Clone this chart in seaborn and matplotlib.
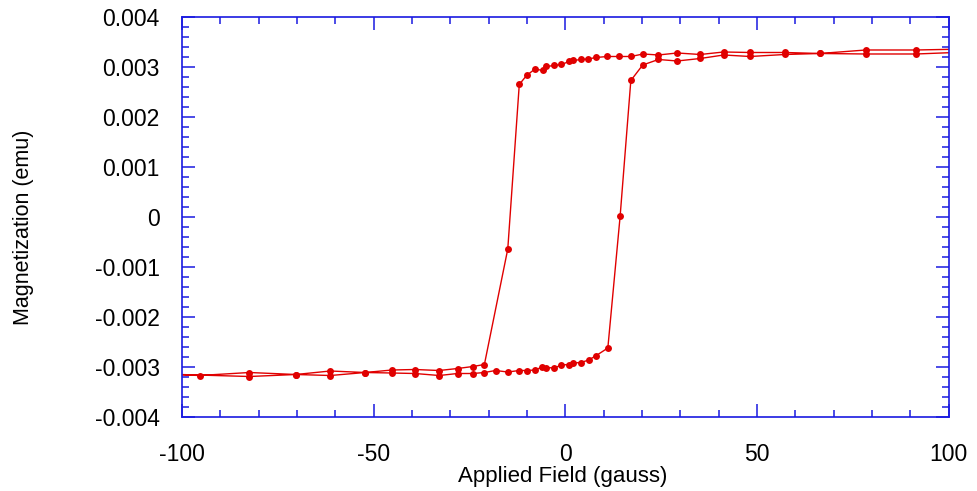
import numpy as np
import pandas as pd
import seaborn as sns
import matplotlib.pyplot as plt
from matplotlib import use
from matplotlib.ticker import MultipleLocator

use('agg')

# hysteresis loop, field in gauss, moment in emu
field_down = [105, 91.5, 78.4, 66.4, 57.3, 48.2, 41.3, 35.2, 29.2, 24.3, 20.3, 17.1,
              14.1, 11.0, 8.0, 6.0, 4.1, 2.1, 1.0, -1.0, -2.9, -4.9, -5.9, -7.9,
              -10.1, -12.0, -15.0, -21.1, -24.1, -28.1, -32.9, -39.2, -45.2, -52.2,
              -61.3, -70.3, -82.4, -95.4, -105]
moment_down = [3.36, 3.34, 3.34, 3.27, 3.29, 3.29, 3.30, 3.25, 3.28, 3.24, 3.26, 3.21,
               3.21, 3.21, 3.19, 3.16, 3.15, 3.13, 3.11, 3.05, 3.03, 3.01, 2.93, 2.96,
               2.83, 2.65, -0.64, -2.95, -2.99, -3.03, -3.07, -3.05, -3.06, -3.11,
               -3.08, -3.15, -3.11, -3.17, -3.14]

field_up = [-82.4, -70.3, -61.3, -52.2, -45.2, -39.2, -32.9, -28.1, -24.1, -21.1, -18.2,
            -15.0, -12.0, -10.1, -7.9, -6.0, -5.0, -2.9, -1.0, 1.0, 2.1, 4.1, 6.1, 8.1,
            11.1, 14.3, 17.1, 20.2, 24.3, 29.2, 35.2, 41.3, 48.2, 57.3, 66.4, 78.4,
            91.5, 105]
moment_up = [-3.19, -3.15, -3.17, -3.11, -3.12, -3.13, -3.17, -3.13, -3.13, -3.11, -3.07,
             -3.10, -3.07, -3.07, -3.06, -3.00, -3.01, -3.02, -2.96, -2.95, -2.92, -2.91,
             -2.86, -2.77, -2.62, 0.01, 2.73, 3.04, 3.15, 3.12, 3.17, 3.24, 3.21, 3.25,
             3.27, 3.26, 3.26, 3.30]

x_ticks = [-100, -50, 0, 50, 100]
y_ticks = [-0.004, -0.003, -0.002, -0.001, 0, 0.001, 0.002, 0.003, 0.004]
y_labels = ['-0.004', '-0.003', '-0.002', '-0.001', '0', '0.001', '0.002', '0.003', '0.004']

df = pd.DataFrame({
    'field': field_down + field_up,
    'moment': np.array(moment_down + moment_up) * 1e-3,
})

sns.set_theme(style='ticks')
plt.rcParams['font.family'] = ['Liberation Sans', 'DejaVu Sans']
plt.rcParams['text.color'] = 'black'
plt.rcParams['axes.labelcolor'] = 'black'

fig = plt.figure(figsize=(9.78, 4.91), dpi=100)
ax = fig.add_axes([0.186, 0.1507, 0.784, 0.8147])

sns.lineplot(data=df, x='field', y='moment', sort=False, estimator=None,
             color='#e00000', linewidth=1.0, marker='o', markersize=5,
             markeredgewidth=0, ax=ax)

blue = '#1a1ae0'
ax.set_xlim(-100, 100)
ax.set_ylim(-0.004, 0.004)
ax.set_xticks(x_ticks)
ax.set_xticklabels([str(t) for t in x_ticks])
ax.set_yticks(y_ticks)
ax.set_yticklabels(y_labels)
ax.xaxis.set_minor_locator(MultipleLocator(10))
ax.yaxis.set_minor_locator(MultipleLocator(0.0002))
ax.tick_params(which='both', direction='in', top=True, right=True, color=blue,
               labelsize=16.5, labelcolor='black')
ax.tick_params(axis='x', which='major', length=9.5, width=1.1, pad=19)
ax.tick_params(axis='y', which='major', length=9.5, width=1.1, pad=16)
ax.tick_params(which='minor', length=5, width=1.1)
for s in ax.spines.values():
    s.set_color(blue)
    s.set_linewidth(1.2)

ax.set_xlabel('Applied Field (gauss)', fontsize=16, va='center')
ax.xaxis.set_label_coords(0.497, -0.148)
ax.set_ylabel('Magnetization (emu)', fontsize=15.5, va='center')
ax.yaxis.set_label_coords(-0.207, 0.475)

fig.savefig('out.png', dpi=100)
